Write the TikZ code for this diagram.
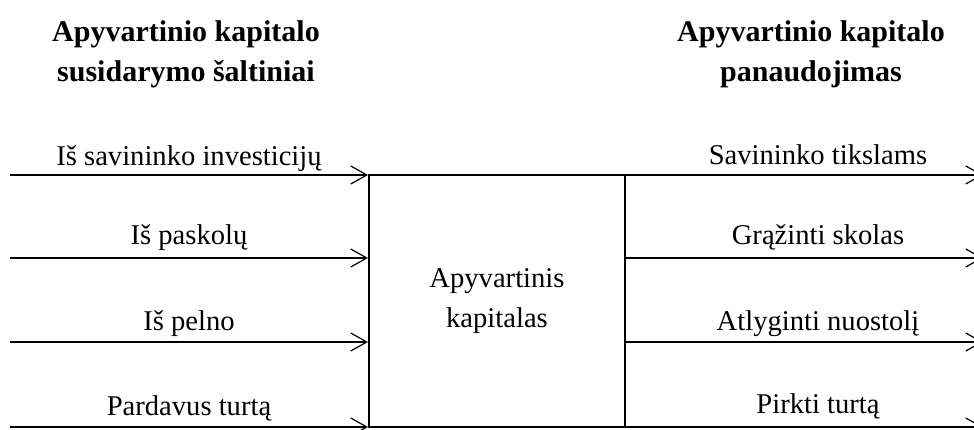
\documentclass[tikz,border=0pt]{standalone}
\usepackage{fontspec}
\setmainfont{Liberation Serif}
\usetikzlibrary{arrows.meta}
\tikzset{
  x=1pt, y=-1pt,
  lbl/.style={anchor=base, inner sep=0pt, font=\fontsize{28.6}{40}\selectfont},
  head/.style={anchor=base, inner sep=0pt, font=\fontsize{30}{40}\selectfont\bfseries},
  flow/.style={line width=1.2pt, -{Straight Barb[length=16pt,width=18pt,line width=1.2pt]}},
  mainbox/.style={draw, line width=2pt, minimum width=256pt, minimum height=252pt, inner sep=0pt, align=center, font=\fontsize{28.6}{40}\selectfont}
}
\begin{document}
\begin{tikzpicture}
\useasboundingbox (0,0) rectangle (974,430);
\clip (0,0) rectangle (974,430);
% headings
\node[head] (hl1) at (186,42) {Apyvartinio kapitalo};
\node[head] (hl2) at (186,82) {susidarymo šaltiniai};
\node[head] (hr1) at (811,42) {Apyvartinio kapitalo};
\node[head] (hr2) at (811,82) {panaudojimas};
% central box
\node[mainbox] (box) at (497,301) {Apyvartinis\\kapitalas};
% left arrow start points
\coordinate (l1) at (10,175);
\coordinate (l2) at (10,258);
\coordinate (l3) at (10,342);
\coordinate (l4) at (10,427);
% right arrow end points
\coordinate (r1) at (983,175);
\coordinate (r2) at (983,258);
\coordinate (r3) at (983,342);
\coordinate (r4) at (983,427);
\foreach \i in {1,2,3,4}{
  \draw[flow] (l\i) -- (l\i -| box.west);
  \draw[flow] (r\i -| box.east) -- (r\i);
}
% left labels
\node[lbl] (t1) at (189,166) {Iš savininko investicijų};
\node[lbl] (t2) at (189,245) {Iš paskolų};
\node[lbl] (t3) at (189,330) {Iš pelno};
\node[lbl] (t4) at (189,415) {Pardavus turtą};
% right labels
\node[lbl] (u1) at (818,165) {Savininko tikslams};
\node[lbl] (u2) at (818,245) {Grąžinti skolas};
\node[lbl] (u3) at (818,330) {Atlyginti nuostolį};
\node[lbl] (u4) at (818,413) {Pirkti turtą};
\end{tikzpicture}
\end{document}
